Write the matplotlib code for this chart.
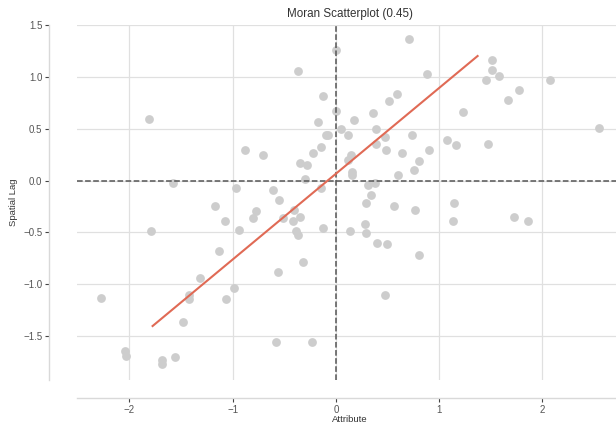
import numpy as np
import matplotlib
matplotlib.use("Agg")
import matplotlib.pyplot as plt

# ------------------------------------------------------------
# Data
# ------------------------------------------------------------
attribute = [
    -2.278, -2.047, -2.035, -1.682, -1.682, -1.554, -1.481, -1.421, -1.421, -1.314,
    -1.794, -1.128, -1.171, -1.073, -0.939, -1.060, -0.985, -0.806, -0.777, -0.557,
    -0.584, -0.229, -0.322, -0.550, -0.405, -0.411, -0.387, -0.368, -0.344, -0.513,
    -1.810, -1.575, -0.966, -0.879, -0.704, -0.605, -0.371, -0.351, -0.283, -0.295,
    -0.218, -0.169, -0.147, -0.123, 0.000, 0.704, 0.884, -0.126, 0.588, 0.516,
    0.002, 0.360, 0.177, 0.051, -0.097, -0.075, 0.119, 0.390, 0.733, 0.479,
    0.389, -0.142, 0.486, 0.637, 0.902, 0.142, 0.114, 0.801, 0.755, 0.157,
    0.158, 0.605, 0.307, 0.380, 0.341, 1.507, 1.507, 1.581, 1.449, 2.075,
    1.774, 1.668, 1.227, 2.546, 1.075, 1.159, 1.474, 0.293, 0.560, 0.768,
    1.145, 1.723, 1.862, 1.133, 0.281, 0.133, 0.293, 0.394, 0.491, 0.806,
    0.474,
]
spatial_lag = [
    -1.136, -1.643, -1.691, -1.732, -1.771, -1.703, -1.363, -1.100, -1.143, -0.945,
    -0.483, -0.681, -0.242, -0.394, -0.479, -1.143, -1.037, -0.358, -0.295, -0.882,
    -1.557, -1.557, -0.788, -0.189, -0.283, -0.389, -0.483, -0.522, -0.348, -0.356,
    0.596, -0.019, -0.069, 0.292, 0.246, -0.090, 1.055, 0.173, 0.147, 0.019,
    0.268, 0.567, -0.075, -0.455, 1.263, 1.371, 1.034, 0.821, 0.841, 0.767,
    0.671, 0.654, 0.582, 0.500, 0.439, 0.446, 0.442, 0.495, 0.442, 0.420,
    0.355, 0.328, 0.300, 0.263, 0.300, 0.246, 0.200, 0.187, 0.106, 0.086,
    0.053, 0.053, -0.039, -0.025, -0.138, 1.169, 1.070, 1.014, 0.973, 0.970,
    0.873, 0.783, 0.661, 0.512, 0.396, 0.348, 0.355, -0.220, -0.240, -0.281,
    -0.213, -0.348, -0.391, -0.389, -0.420, -0.489, -0.508, -0.602, -0.609, -0.718,
    -1.104,
]

# fitted line (slope / intercept / x span as drawn)
fit_slope = 0.829
fit_intercept = 0.067
fit_x = [-1.775, 1.372]

moran_i = 0.45

x_ticks = [-2, -1, 0, 1, 2]
y_ticks = [-1.5, -1.0, -0.5, 0.0, 0.5, 1.0, 1.5]

# ------------------------------------------------------------
# Figure
# ------------------------------------------------------------
plt.rcParams["font.family"] = ["Liberation Sans", "DejaVu Sans"]

fig = plt.figure(figsize=(6.16, 4.23), dpi=100)
ax = fig.add_axes([77 / 616, 1 - 380 / 423, 546 / 616, 355 / 423])

ax.set_xlim(-2.507, 2.78)
ax.set_ylim(-1.926, 1.504)

ax.grid(True, color="#e0e0e0", linewidth=0.9)
ax.set_axisbelow(True)

ax.scatter(attribute, spatial_lag, s=40, color="#cdcdcd", linewidths=0, zorder=2)

fx = np.array(fit_x)
ax.plot(fx, fit_intercept + fit_slope * fx, color="#e06a55", linewidth=1.5, zorder=3)

ax.axvline(0, color="#555555", linestyle="--", linewidth=1.1, zorder=2.5)
ax.axhline(0, color="#555555", linestyle="--", linewidth=1.1, zorder=2.5)

ax.set_xticks(x_ticks)
ax.set_yticks(y_ticks)
ax.set_yticklabels([f"{v:.1f}".replace("-", "\u2212") for v in y_ticks])

# despined look: only left/bottom spines, pushed outward
for side in ["top", "right"]:
    ax.spines[side].set_visible(False)
ax.spines["left"].set_position(("outward", 20))
ax.spines["bottom"].set_position(("outward", 12.8))
for side in ["left", "bottom"]:
    ax.spines[side].set_color("#d9d9d9")
    ax.spines[side].set_linewidth(1.0)

ax.tick_params(axis="both", labelsize=7, colors="#555555", length=3, width=0.8, pad=2)
ax.tick_params(axis="both", color="#444444")

ax.set_title(f"Moran Scatterplot ({moran_i})", fontsize=8.4, color="#333333", pad=6)
ax.set_xlabel("Attribute", fontsize=6.8, color="#333333", labelpad=0.5)
ax.set_ylabel("Spatial Lag", fontsize=6.8, color="#333333", labelpad=4)

fig.savefig("out.png", dpi=100)
